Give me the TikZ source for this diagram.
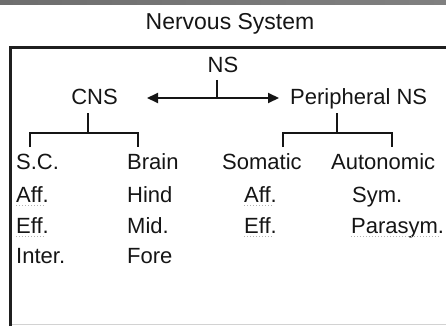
\documentclass[tikz,border=0pt]{standalone}
\usepackage{fontspec}
\setmainfont{Liberation Sans}
\usetikzlibrary{arrows.meta}
\definecolor{bardark}{HTML}{6E6E6E}
\definecolor{barlight}{HTML}{E4E4E4}
\definecolor{barright}{HTML}{808080}
\definecolor{ink}{HTML}{151515}
\begin{document}
\begin{tikzpicture}[x=1pt,y=-1pt,
  lbl/.style={inner sep=0pt, anchor=base west, text=ink, font=\fontsize{22}{26}\selectfont},
  ttl/.style={inner sep=0pt, anchor=base, text=ink, font=\fontsize{23}{27}\selectfont},
  conn/.style={line width=2pt, draw=ink},
  arr/.style={conn, {Triangle[length=11pt,width=10pt]}-{Triangle[length=11pt,width=10pt]}},
  squig/.style={draw=gray!60, line width=1pt, dotted},
  frame/.style={line width=3pt, draw=black!88}]
\useasboundingbox (0,0) rectangle (446,326);
% top gradient bar
\shade[left color=bardark, middle color=barlight, right color=barright] (0,0) rectangle (446,5);
% frame
\draw[gray!35, line width=1pt] (10,324.5) -- (446,324.5);
\draw[frame] (10,326) -- (10,48) -- (450,48);
% title
\node[ttl] (title) at (230,30) {Nervous System};
% top level
\node[lbl, anchor=base] (ns) at (223,73) {NS};
\node[lbl, anchor=base] (cns) at (94.5,104) {CNS};
\node[lbl] (pns) at (290,104) {Peripheral NS};
\coordinate (al) at (147,98);
\coordinate (ar) at (279,98);
\coordinate (nsb) at (217,80);
\coordinate (nsj) at (217,98);
\draw[arr] (al) -- (ar);
\draw[conn] (nsb) -- (nsj);
% CNS bracket
\coordinate (cb) at (88,113);
\coordinate (cj) at (88,133);
\coordinate (cl) at (30,147);
\coordinate (cr) at (138,147);
\draw[conn] (cb) -- (cj);
\draw[conn] (cl) |- (cj) -| (cr);
% PNS bracket
\coordinate (pb) at (337,113);
\coordinate (pj) at (337,133);
\coordinate (pl) at (283,147);
\coordinate (pr) at (392,147);
\draw[conn] (pb) -- (pj);
\draw[conn] (pl) |- (pj) -| (pr);
% columns
\node[lbl] (sc) at (16,169) {S.C.};
\node[lbl] (aff1) at (16,202) {Aff.};
\node[lbl] (eff1) at (16,233) {Eff.};
\node[lbl] (inter) at (16,263) {Inter.};
\node[lbl] (brain) at (127,169) {Brain};
\node[lbl] (hind) at (127,202) {Hind};
\node[lbl] (mid) at (127,233) {Mid.};
\node[lbl] (fore) at (127,263) {Fore};
\node[lbl] (som) at (222,169) {Somatic};
\node[lbl] (aff2) at (244,202) {Aff.};
\node[lbl] (eff2) at (244,233) {Eff.};
\node[lbl] (auto) at (331,169) {Autonomic};
\node[lbl] (sym) at (352,202) {Sym.};
\node[lbl] (para) at (351,233) {Parasym.};
% spell-check underlines
\foreach \n in {aff1,eff1,aff2,eff2,para}{
  \draw[squig] ([yshift=-3pt]\n.base west) -- ([yshift=-3pt,xshift=-4pt]\n.base east);
}
\end{tikzpicture}
\end{document}
